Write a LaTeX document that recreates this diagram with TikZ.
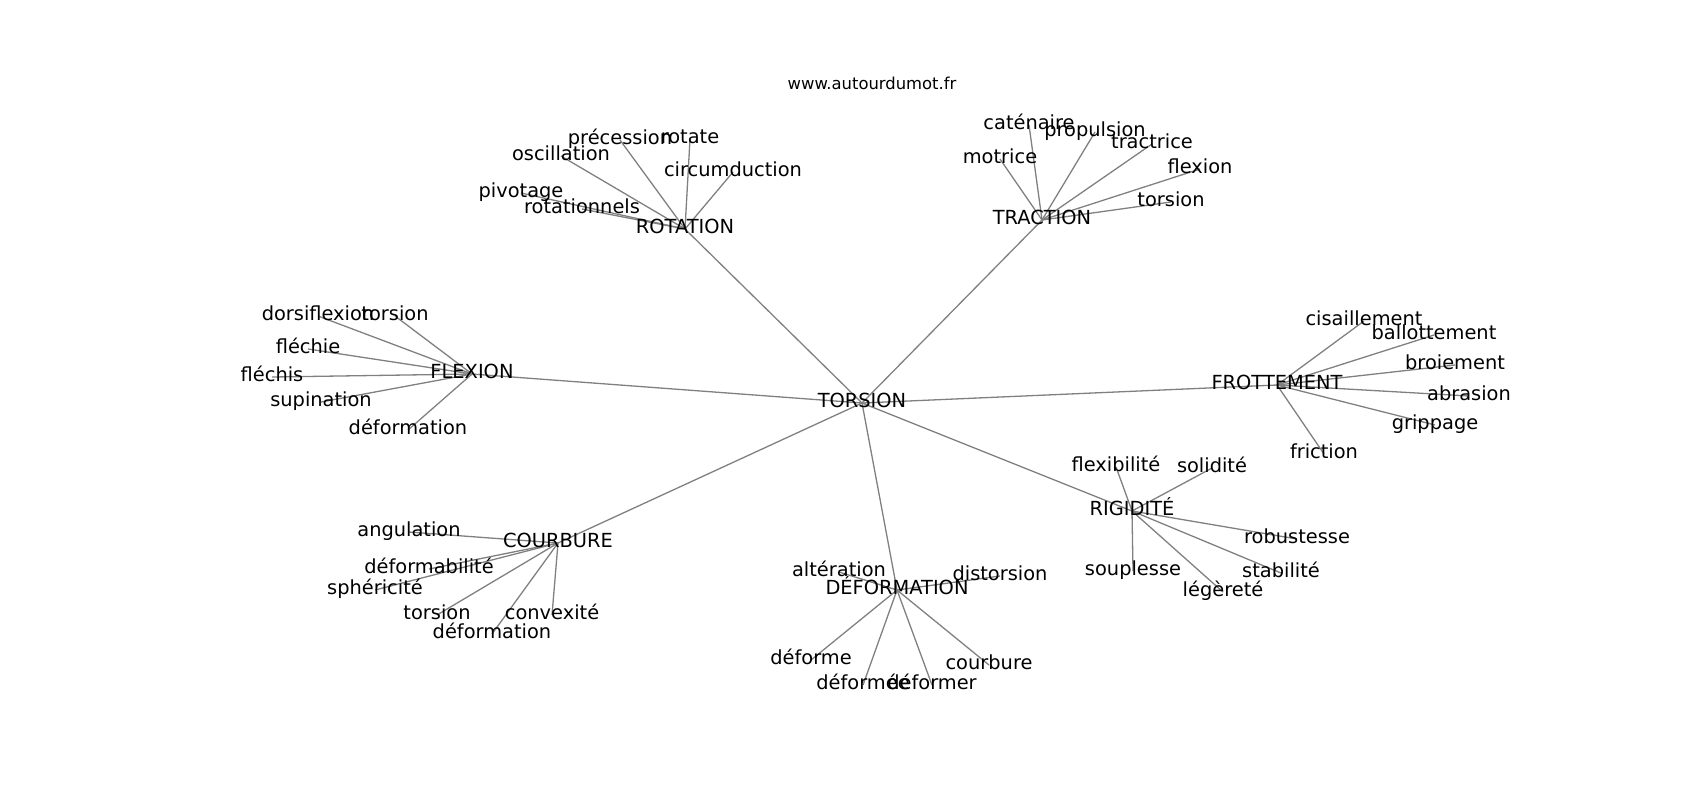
\documentclass[tikz,border=0pt]{standalone}
\usepackage{fontspec}
\setmainfont{DejaVu Sans}
\usetikzlibrary{backgrounds}

\tikzset{
  word/.style={inner sep=0pt, text height=7.1pt, text depth=2.3pt, font=\fontsize{9.7}{11}\selectfont},
  link/.style={draw=gray, line width=0.65pt},
}

\begin{document}
\begin{tikzpicture}[line cap=round,line join=round,x=0.5pt,y=-0.5pt]
\useasboundingbox (0,0) rectangle (1700,800);
\node[font=\fontsize{8.2}{10}\selectfont] (site) at (872,83) {www.autourdumot.fr};
% centre and hubs
\node[word] (torsion) at (862,403) {TORSION};
\node[word] (rotation) at (685,229) {ROTATION};
\node[word] (traction) at (1042,220) {TRACTION};
\node[word] (flexion) at (472,374) {FLEXION};
\node[word] (frottement) at (1277,385) {FROTTEMENT};
\node[word] (rigidite) at (1132,511) {RIGIDITÉ};
\node[word] (courbure) at (558,543) {COURBURE};
\node[word] (deformation) at (897,590) {DÉFORMATION};
% rotation
\node[word] (rot1) at (620,140) {précession};
\node[word] (rot2) at (690,139) {rotate};
\node[word] (rot3) at (561,156) {oscillation};
\node[word] (rot4) at (733,172) {circumduction};
\node[word] (rot5) at (521,193) {pivotage};
\node[word] (rot6) at (582,209) {rotationnels};
% traction
\node[word] (tra1) at (1029,125) {caténaire};
\node[word] (tra2) at (1095,132) {propulsion};
\node[word] (tra3) at (1152,144) {tractrice};
\node[word] (tra4) at (1000,159) {motrice};
\node[word] (tra5) at (1200,169) {flexion};
\node[word] (tra6) at (1171,202) {torsion};
% flexion
\node[word] (fle1) at (318,316) {dorsiflexion};
\node[word] (fle2) at (395,316) {torsion};
\node[word] (fle3) at (308,349) {fléchie};
\node[word] (fle4) at (272,377) {fléchis};
\node[word] (fle5) at (321,402) {supination};
\node[word] (fle6) at (408,430) {déformation};
% frottement
\node[word] (fro1) at (1364,321) {cisaillement};
\node[word] (fro2) at (1434,335) {ballottement};
\node[word] (fro3) at (1455,365) {broiement};
\node[word] (fro4) at (1469,396) {abrasion};
\node[word] (fro5) at (1435,425) {grippage};
\node[word] (fro6) at (1324,454) {friction};
% rigidite
\node[word] (rig1) at (1116,467) {flexibilité};
\node[word] (rig2) at (1212,468) {solidité};
\node[word] (rig3) at (1297,539) {robustesse};
\node[word] (rig4) at (1133,571) {souplesse};
\node[word] (rig5) at (1281,573) {stabilité};
\node[word] (rig6) at (1223,592) {légèreté};
% courbure
\node[word] (cou1) at (409,532) {angulation};
\node[word] (cou2) at (429,569) {déformabilité};
\node[word] (cou3) at (375,590) {sphéricité};
\node[word] (cou4) at (437,615) {torsion};
\node[word] (cou5) at (552,615) {convexité};
\node[word] (cou6) at (492,634) {déformation};
% deformation
\node[word] (def1) at (839,572) {altération};
\node[word] (def2) at (1000,576) {distorsion};
\node[word] (def3) at (811,660) {déforme};
\node[word] (def4) at (863,685) {déformée};
\node[word] (def5) at (932,685) {déformer};
\node[word] (def6) at (989,665) {courbure};

\begin{pgfonlayer}{background}
\foreach \n in {rotation,traction,flexion,frottement,rigidite,courbure,deformation}
  \draw[link] (torsion.center) -- (\n.center);
\foreach \i in {1,...,6} {
  \draw[link] (rotation.center) -- (rot\i.center);
  \draw[link] (traction.center) -- (tra\i.center);
  \draw[link] (flexion.center) -- (fle\i.center);
  \draw[link] (frottement.center) -- (fro\i.center);
  \draw[link] (rigidite.center) -- (rig\i.center);
  \draw[link] (courbure.center) -- (cou\i.center);
  \draw[link] (deformation.center) -- (def\i.center);
}
\end{pgfonlayer}
\end{tikzpicture}
\end{document}
